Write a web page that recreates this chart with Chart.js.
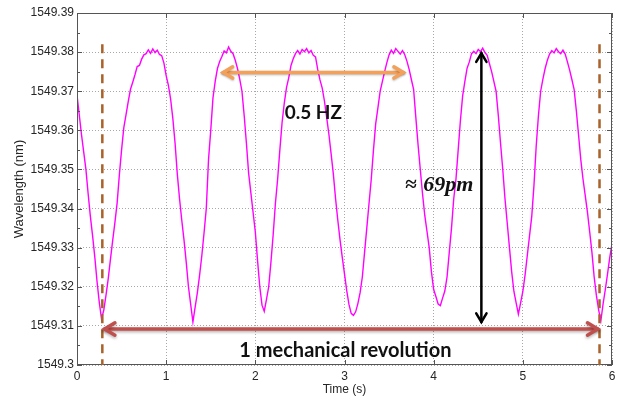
<!DOCTYPE html>
<html>
<head>
<meta charset="utf-8">
<script src="https://cdn.jsdelivr.net/npm/chart.js@4.4.0/dist/chart.umd.min.js"></script>
<style>
  html, body { margin: 0; padding: 0; background: #fff; }
  #wrap { width: 620px; height: 402px; position: relative; }
</style>
</head>
<body>
<div id="wrap"><canvas id="chart_wavelength"></canvas></div>
<script>
// sample times (s)
var times = [
  0, 0.025, 0.05, 0.075, 0.1, 0.125, 0.15, 0.175, 0.2, 0.225,
  0.25, 0.275, 0.3, 0.325, 0.35, 0.375, 0.4, 0.425, 0.45, 0.475,
  0.5, 0.525, 0.55, 0.575, 0.6, 0.625, 0.65, 0.675, 0.7, 0.725,
  0.75, 0.775, 0.8, 0.825, 0.85, 0.875, 0.9, 0.925, 0.95, 0.975,
  1, 1.025, 1.05, 1.075, 1.1, 1.125, 1.15, 1.175, 1.2, 1.225,
  1.25, 1.275, 1.3, 1.325, 1.35, 1.375, 1.4, 1.425, 1.45, 1.475,
  1.5, 1.525, 1.55, 1.575, 1.6, 1.625, 1.65, 1.675, 1.7, 1.725,
  1.75, 1.775, 1.8, 1.825, 1.85, 1.875, 1.9, 1.925, 1.95, 1.975,
  2, 2.025, 2.05, 2.075, 2.1, 2.125, 2.15, 2.175, 2.2, 2.225,
  2.25, 2.275, 2.3, 2.325, 2.35, 2.375, 2.4, 2.425, 2.45, 2.475,
  2.5, 2.525, 2.55, 2.575, 2.6, 2.625, 2.65, 2.675, 2.7, 2.725,
  2.75, 2.775, 2.8, 2.825, 2.85, 2.875, 2.9, 2.925, 2.95, 2.975,
  3, 3.025, 3.05, 3.075, 3.1, 3.125, 3.15, 3.175, 3.2, 3.225,
  3.25, 3.275, 3.3, 3.325, 3.35, 3.375, 3.4, 3.425, 3.45, 3.475,
  3.5, 3.525, 3.55, 3.575, 3.6, 3.625, 3.65, 3.675, 3.7, 3.725,
  3.75, 3.775, 3.8, 3.825, 3.85, 3.875, 3.9, 3.925, 3.95, 3.975,
  4, 4.025, 4.05, 4.075, 4.1, 4.125, 4.15, 4.175, 4.2, 4.225,
  4.25, 4.275, 4.3, 4.325, 4.35, 4.375, 4.4, 4.425, 4.45, 4.475,
  4.5, 4.525, 4.55, 4.575, 4.6, 4.625, 4.65, 4.675, 4.7, 4.725,
  4.75, 4.775, 4.8, 4.825, 4.85, 4.875, 4.9, 4.925, 4.95, 4.975,
  5, 5.025, 5.05, 5.075, 5.1, 5.125, 5.15, 5.175, 5.2, 5.225,
  5.25, 5.275, 5.3, 5.325, 5.35, 5.375, 5.4, 5.425, 5.45, 5.475,
  5.5, 5.525, 5.55, 5.575, 5.6, 5.625, 5.65, 5.675, 5.7, 5.725,
  5.75, 5.775, 5.8, 5.825, 5.85, 5.875, 5.9, 5.925, 5.95, 5.975,
  6
];

// wavelength (nm)
var wavelengths = [
  1549.369, 1549.364, 1549.359, 1549.3545, 1549.35, 1549.3438, 1549.338, 1549.333, 1549.3275, 1549.3213,
  1549.316, 1549.3118, 1549.314, 1549.3178, 1549.322, 1549.327, 1549.3318, 1549.3364, 1549.3414, 1549.3486,
  1549.355, 1549.3607, 1549.364, 1549.3674, 1549.3705, 1549.3723, 1549.3742, 1549.3763, 1549.3766, 1549.3782,
  1549.3793, 1549.3796, 1549.3806, 1549.3797, 1549.3808, 1549.3799, 1549.3805, 1549.3794, 1549.3791, 1549.3772,
  1549.374, 1549.3715, 1549.368, 1549.363, 1549.3567, 1549.3488, 1549.3425, 1549.337, 1549.332, 1549.3263,
  1549.32, 1549.3155, 1549.311, 1549.3148, 1549.3185, 1549.323, 1549.328, 1549.3338, 1549.34, 1549.3525,
  1549.36, 1549.3683, 1549.3725, 1549.3758, 1549.3776, 1549.3789, 1549.3803, 1549.3798, 1549.3813, 1549.3802,
  1549.3796, 1549.3779, 1549.3758, 1549.3731, 1549.37, 1549.3638, 1549.3567, 1549.349, 1549.344, 1549.339,
  1549.334, 1549.3267, 1549.32, 1549.3153, 1549.3137, 1549.3168, 1549.32, 1549.3263, 1549.3333, 1549.3413,
  1549.3475, 1549.355, 1549.362, 1549.367, 1549.371, 1549.3735, 1549.3766, 1549.3783, 1549.3796, 1549.3804,
  1549.3795, 1549.3807, 1549.3801, 1549.3809, 1549.3798, 1549.3804, 1549.3792, 1549.3788, 1549.3755, 1549.3729,
  1549.3708, 1549.3675, 1549.3633, 1549.359, 1549.354, 1549.3488, 1549.3425, 1549.337, 1549.332, 1549.3275,
  1549.3233, 1549.319, 1549.3155, 1549.3132, 1549.3127, 1549.3136, 1549.3157, 1549.3185, 1549.3225, 1549.3288,
  1549.335, 1549.3413, 1549.3475, 1549.355, 1549.3617, 1549.3658, 1549.37, 1549.3725, 1549.375, 1549.3773,
  1549.3793, 1549.3805, 1549.3797, 1549.3809, 1549.3802, 1549.3795, 1549.3804, 1549.3794, 1549.3777, 1549.3756,
  1549.373, 1549.3705, 1549.3633, 1549.3563, 1549.35, 1549.3438, 1549.3383, 1549.3342, 1549.33, 1549.3238,
  1549.3193, 1549.3175, 1549.3156, 1549.3152, 1549.3171, 1549.3189, 1549.3225, 1549.3288, 1549.335, 1549.3425,
  1549.3475, 1549.355, 1549.3625, 1549.3688, 1549.3725, 1549.3759, 1549.3775, 1549.3796, 1549.3802, 1549.3796,
  1549.3807, 1549.3801, 1549.381, 1549.3799, 1549.3792, 1549.3771, 1549.375, 1549.3725, 1549.37, 1549.3638,
  1549.3567, 1549.35, 1549.3425, 1549.3363, 1549.33, 1549.3238, 1549.3188, 1549.3159, 1549.313, 1549.3159,
  1549.3188, 1549.323, 1549.328, 1549.333, 1549.338, 1549.346, 1549.356, 1549.3638, 1549.37, 1549.3731,
  1549.3758, 1549.3779, 1549.3795, 1549.3804, 1549.3798, 1549.3809, 1549.3801, 1549.3796, 1549.3805, 1549.3795,
  1549.3775, 1549.3754, 1549.373, 1549.3705, 1549.365, 1549.3588, 1549.3525, 1549.3475, 1549.3433, 1549.339,
  1549.334, 1549.3288, 1549.3225, 1549.3178, 1549.3141, 1549.3113, 1549.3156, 1549.3193, 1549.3233, 1549.3275,
  1549.331
];

var xTickLabels = ['0', '1', '2', '3', '4', '5', '6'];
var yTickLabels = ['1549.3', '1549.31', '1549.32', '1549.33', '1549.34', '1549.35', '1549.36', '1549.37', '1549.38', '1549.39'];

// annotation placement in data units
var notes = {
  revLines: [0.284, 5.86], revTop: 1549.382,
  hzArrow: { from: 1.64, to: 3.66, y: 1549.3748 },
  hzText: { x: 2.65, y: 1549.3645, text: '0.5 HZ' },
  pmArrow: { x: 4.535, top: 1549.3797, bottom: 1549.311 },
  pmText: { x: 3.68, y: 1549.3459, text: '69pm' },
  revArrow: { from: 0.31, to: 5.84, y: 1549.3092 },
  revText: { x: 3.01, y: 1549.3036, text: '1 mechanical revolution' }
};

var chart;

function findLabel(list, value) {
  for (var i = 0; i < list.length; i++) {
    if (Math.abs(parseFloat(list[i]) - value) < 1e-6) return list[i];
  }
  return '';
}

function chevron(ctx, x, y, angle, size) {
  ctx.beginPath();
  ctx.moveTo(x + size * Math.cos(angle + 2.6), y + size * Math.sin(angle + 2.6));
  ctx.lineTo(x, y);
  ctx.lineTo(x + size * Math.cos(angle - 2.6), y + size * Math.sin(angle - 2.6));
  ctx.stroke();
}

function doubleArrow(ctx, x1, y1, x2, y2, size) {
  var a = Math.atan2(y2 - y1, x2 - x1);
  ctx.beginPath();
  ctx.moveTo(x1, y1);
  ctx.lineTo(x2, y2);
  ctx.stroke();
  chevron(ctx, x2, y2, a, size);
  chevron(ctx, x1, y1, a + Math.PI, size);
}

var frameAndNotes = {
  id: 'frameAndNotes',
  afterDatasetsDraw: function (c) {
    var ctx = c.ctx;
    var area = c.chartArea;
    var xs = c.scales.x, ys = c.scales.y;
    var i, v, p;

    // box and inward ticks
    ctx.save();
    ctx.strokeStyle = '#555555';
    ctx.lineWidth = 1;
    ctx.strokeRect(Math.round(area.left) + 0.5, Math.round(area.top) + 0.5,
      Math.round(area.right - area.left) - 1, Math.round(area.bottom - area.top) - 1);
    ctx.beginPath();
    for (i = 0; i < yTickLabels.length * 2 - 1; i++) {
      v = 1549.3 + i * 0.005;
      p = Math.round(ys.getPixelForValue(v)) + 0.5;
      var len = i % 2 === 0 ? 5 : 3;
      ctx.moveTo(area.left, p); ctx.lineTo(area.left + len, p);
      ctx.moveTo(area.right, p); ctx.lineTo(area.right - len, p);
    }
    for (i = 0; i < xTickLabels.length; i++) {
      p = Math.round(xs.getPixelForValue(parseFloat(xTickLabels[i]))) + 0.5;
      ctx.moveTo(p, area.bottom); ctx.lineTo(p, area.bottom - 5);
      ctx.moveTo(p, area.top); ctx.lineTo(p, area.top + 5);
    }
    ctx.stroke();
    ctx.restore();

    // brown dashed revolution markers
    ctx.save();
    ctx.strokeStyle = '#a8622a';
    ctx.lineWidth = 2.5;
    ctx.setLineDash([9, 6]);
    notes.revLines.forEach(function (t) {
      var x = xs.getPixelForValue(t);
      ctx.beginPath();
      ctx.moveTo(x, ys.getPixelForValue(notes.revTop));
      ctx.lineTo(x, ys.getPixelForValue(1549.3));
      ctx.stroke();
    });
    ctx.restore();

    // orange frequency arrow
    ctx.save();
    ctx.strokeStyle = '#f2a05a';
    ctx.lineWidth = 3.5;
    ctx.lineCap = 'round';
    ctx.shadowColor = 'rgba(0,0,0,0.25)';
    ctx.shadowBlur = 2;
    ctx.shadowOffsetY = 1;
    var hy = ys.getPixelForValue(notes.hzArrow.y);
    doubleArrow(ctx, xs.getPixelForValue(notes.hzArrow.from), hy, xs.getPixelForValue(notes.hzArrow.to), hy, 11);
    ctx.restore();

    // red revolution arrow
    ctx.save();
    ctx.strokeStyle = '#c0504d';
    ctx.lineWidth = 3.5;
    ctx.lineCap = 'round';
    ctx.shadowColor = 'rgba(0,0,0,0.3)';
    ctx.shadowBlur = 3;
    ctx.shadowOffsetY = 1.5;
    var ry = ys.getPixelForValue(notes.revArrow.y);
    doubleArrow(ctx, xs.getPixelForValue(notes.revArrow.from), ry, xs.getPixelForValue(notes.revArrow.to), ry, 12);
    ctx.restore();

    // black amplitude arrow
    ctx.save();
    ctx.strokeStyle = '#000000';
    ctx.lineWidth = 2.5;
    ctx.lineCap = 'round';
    var bx = xs.getPixelForValue(notes.pmArrow.x);
    doubleArrow(ctx, bx, ys.getPixelForValue(notes.pmArrow.bottom), bx, ys.getPixelForValue(notes.pmArrow.top), 10);
    ctx.restore();

    // texts
    ctx.save();
    ctx.fillStyle = '#111111';
    ctx.textBaseline = 'middle';
    ctx.textAlign = 'center';
    ctx.font = 'bold 19px Lato';
    ctx.fillText(notes.hzText.text, xs.getPixelForValue(notes.hzText.x), ys.getPixelForValue(notes.hzText.y));
    ctx.font = 'bold 20px Lato';
    ctx.fillText(notes.revText.text, xs.getPixelForValue(notes.revText.x), ys.getPixelForValue(notes.revText.y));
    ctx.textAlign = 'left';
    var tx = xs.getPixelForValue(notes.pmText.x);
    var ty = ys.getPixelForValue(notes.pmText.y);
    ctx.font = 'bold 21px "Liberation Serif"';
    ctx.fillText('\u2248', tx, ty);
    ctx.font = 'bold italic 22px "Liberation Serif"';
    ctx.fillText(notes.pmText.text, tx + 18, ty);
    ctx.restore();
  }
};

function make_chart() {
  var points = [];
  for (var i = 0; i < times.length; i++) {
    points.push({ x: times[i], y: wavelengths[i] });
  }
  var ctx = document.getElementById('chart_wavelength').getContext('2d');
  chart = new Chart(ctx, {
    type: 'line',
    data: {
      datasets: [{
        label: 'Wavelength',
        data: points,
        borderColor: '#ff00ff',
        borderWidth: 1.4,
        pointRadius: 0,
        tension: 0,
        fill: false
      }]
    },
    options: {
      responsive: true,
      maintainAspectRatio: false,
      animation: false,
      devicePixelRatio: 1,
      layout: { padding: { top: 13, right: 8, left: 0, bottom: 0 } },
      plugins: { legend: { display: false }, tooltip: { enabled: false } },
      scales: {
        x: {
          type: 'linear',
          min: 0,
          max: 6,
          afterFit: function (s) { s.height = 37; },
          ticks: {
            stepSize: 1,
            padding: 4,
            color: '#262626',
            font: { family: 'Liberation Sans', size: 12 },
            callback: function (value) { return findLabel(xTickLabels, value); }
          },
          grid: { color: '#a8a8a8', lineWidth: 1, drawTicks: false },
          border: { display: false, dash: [1, 2] },
          title: {
            display: true,
            text: 'Time (s)',
            color: '#262626',
            font: { family: 'Liberation Sans', size: 12 },
            padding: { top: 0, bottom: 5 }
          }
        },
        y: {
          type: 'linear',
          min: 1549.3,
          max: 1549.39,
          afterFit: function (s) { s.width = 77; },
          ticks: {
            stepSize: 0.01,
            padding: 3,
            color: '#262626',
            font: { family: 'Liberation Sans', size: 12 },
            callback: function (value) { return findLabel(yTickLabels, value); }
          },
          grid: { color: '#a8a8a8', lineWidth: 1, drawTicks: false },
          border: { display: false, dash: [1, 2] },
          title: {
            display: true,
            text: 'Wavelength (nm)',
            color: '#262626',
            font: { family: 'Liberation Sans', size: 13 },
            padding: { top: 12, bottom: 0 }
          }
        }
      }
    },
    plugins: [frameAndNotes]
  });
}

make_chart();
</script>
</body>
</html>
